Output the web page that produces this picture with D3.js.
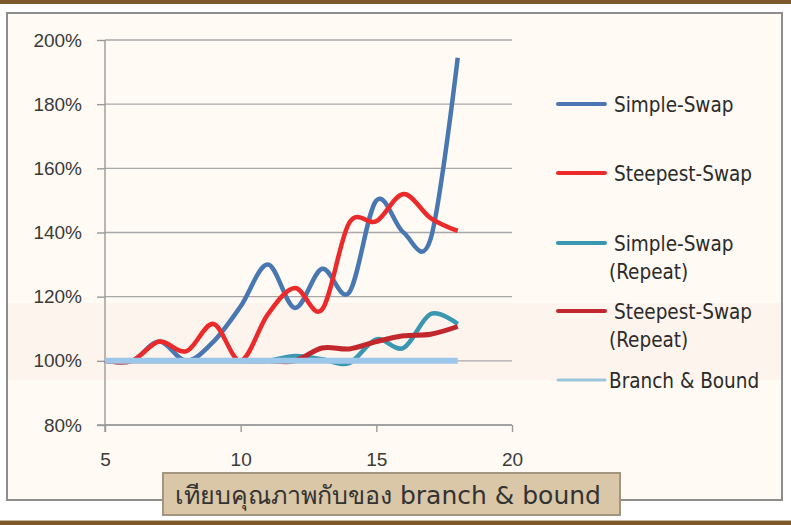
<!DOCTYPE html>
<html>
<head>
<meta charset="utf-8">
<script src="https://cdn.jsdelivr.net/npm/d3@7"></script>
<style>
  html, body { margin: 0; padding: 0; background: #ffffff; }
  svg { display: block; }
</style>
</head>
<body>
<svg id="chart" width="791" height="525"></svg>
<script>
// Problem size n on the x axis
const sizes = [5, 6, 7, 8, 9, 10, 11, 12, 13, 14, 15, 16, 17, 18];

// Solution cost relative to branch & bound (%)
const simpleSwap     = [100, 100, 106, 100, 106, 117, 130, 116.5, 128.7, 121.3, 150, 140, 138, 194.5];
const steepestSwap   = [100, 100, 106, 103, 111.5, 100, 114.5, 122.7, 116, 143, 143.5, 152, 144.5, 140.5];
const simpleRepeat   = [100, 100, 100, 100, 100, 100, 100, 101.5, 100.5, 99.3, 106.7, 104, 114.6, 111.5];
const steepestRepeat = [100, 100, 100, 100, 100, 100, 100, 100, 104, 103.7, 106, 107.8, 108.3, 110.7];
const branchBound    = [100, 100, 100, 100, 100, 100, 100, 100, 100, 100, 100, 100, 100, 100];

const seriesNames = ["Simple-Swap", "Steepest-Swap", "Simple-Swap (Repeat)", "Steepest-Swap (Repeat)", "Branch & Bound"];
const yTicks = [80, 100, 120, 140, 160, 180, 200];
const xTicks = [5, 10, 15, 20];
const caption = "เทียบคุณภาพกับของ branch & bound";

const svg = d3.select("#chart");
const W = 791, H = 525;

// page frame: brown rules top and bottom, framed cream panel
svg.append("rect").attr("width", W).attr("height", H).attr("fill", "#ffffff");
svg.append("rect").attr("x", 0).attr("y", 0).attr("width", W).attr("height", 4).attr("fill", "#7c5a2e");
svg.append("rect").attr("x", 0).attr("y", 521).attr("width", W).attr("height", 4).attr("fill", "#7c5a2e");
svg.append("rect").attr("x", 0).attr("y", 520).attr("width", W).attr("height", 1).attr("fill", "#c9b79a");

svg.append("rect")
  .attr("x", 7).attr("y", 13).attr("width", 775).attr("height", 487)
  .attr("fill", "#fffaf3").attr("stroke", "#8d8d8d").attr("stroke-width", 2);
// faint warm band behind the 100% region
svg.append("rect")
  .attr("x", 8).attr("y", 303).attr("width", 773).attr("height", 77)
  .attr("fill", "#fef4ee");

const x = d3.scaleLinear().domain([5, 20]).range([105, 512]);
const y = d3.scaleLinear().domain([80, 200]).range([425, 40]);

const tickFont = "'Liberation Sans', Arial, sans-serif";

// horizontal gridlines
svg.append("g")
  .selectAll("line")
  .data(yTicks)
  .join("line")
  .attr("x1", x(5)).attr("x2", x(20))
  .attr("y1", d => y(d)).attr("y2", d => y(d))
  .attr("stroke", "#a8a8a8").attr("stroke-width", 1.4);

// y axis
const yAxis = svg.append("g")
  .attr("transform", `translate(${x(5)},0)`)
  .call(d3.axisLeft(y).tickValues(yTicks).tickSize(8).tickPadding(15).tickFormat(d => d + "%"));
yAxis.select(".domain").attr("stroke", "#999999").attr("stroke-width", 1.4)
  .attr("d", `M0,${y(200)}V${y(80) + 7}`);
yAxis.selectAll(".tick line").attr("stroke", "#999999").attr("stroke-width", 1.4);
yAxis.selectAll(".tick text")
  .attr("font-family", tickFont).attr("font-size", 19).attr("fill", "#3a3a3a");

// x axis
const xAxis = svg.append("g")
  .attr("transform", `translate(0,${y(80)})`)
  .call(d3.axisBottom(x).tickValues(xTicks).tickSize(7).tickPadding(21).tickFormat(d3.format("d")));
xAxis.select(".domain").attr("stroke", "#999999").attr("stroke-width", 1.4)
  .attr("d", `M${x(5) - 8},0H${x(20)}`);
xAxis.selectAll(".tick line").attr("stroke", "#999999").attr("stroke-width", 1.4);
xAxis.selectAll(".tick text")
  .attr("font-family", tickFont).attr("font-size", 19).attr("fill", "#3a3a3a");

// smoothed series lines
const series = [
  { name: seriesNames[0], values: simpleSwap,     color: "#4877b1", width: 4.5 },
  { name: seriesNames[1], values: steepestSwap,   color: "#ea2a2b", width: 4.5 },
  { name: seriesNames[2], values: simpleRepeat,   color: "#3a97b0", width: 4.5 },
  { name: seriesNames[3], values: steepestRepeat, color: "#c1272d", width: 5 },
  { name: seriesNames[4], values: branchBound,    color: "#9dc7ea", width: 6 }
];

const line = d3.line()
  .x((d, i) => x(sizes[i]))
  .y(d => y(d))
  .curve(d3.curveCardinal.tension(0));

svg.append("g")
  .selectAll("path")
  .data(series)
  .join("path")
  .attr("d", d => line(d.values))
  .attr("fill", "none")
  .attr("stroke", d => d.color)
  .attr("stroke-width", d => d.width)
  .attr("stroke-linecap", "butt")
  .attr("stroke-linejoin", "round");

// legend
const legendFont = "'DejaVu Sans Condensed', 'DejaVu Sans', sans-serif";
const legendItems = [
  { s: series[0], lineY: 104, lines: ["Simple-Swap"] },
  { s: series[1], lineY: 173, lines: ["Steepest-Swap"] },
  { s: series[2], lineY: 243, lines: ["Simple-Swap", "(Repeat)"] },
  { s: series[3], lineY: 311, lines: ["Steepest-Swap", "(Repeat)"] },
  { s: series[4], lineY: 380, lines: ["Branch & Bound"] }
];
const legend = svg.append("g");
legendItems.forEach((item, k) => {
  const isBB = k === 4;
  legend.append("line")
    .attr("x1", 558).attr("x2", 605)
    .attr("y1", item.lineY).attr("y2", item.lineY)
    .attr("stroke", isBB ? "#9ac6dc" : item.s.color)
    .attr("stroke-width", isBB ? 3 : 4)
    .attr("stroke-linecap", "round");
  item.lines.forEach((txt, j) => {
    legend.append("text")
      .attr("x", j === 0 && !isBB ? 614 : 609)
      .attr("y", item.lineY + 8 + j * 28)
      .attr("font-family", legendFont)
      .attr("font-size", 20.5)
      .attr("fill", "#2b2b2b")
      .text(txt);
  });
});

// caption box
svg.append("rect")
  .attr("x", 163).attr("y", 473).attr("width", 457).attr("height", 42)
  .attr("fill", "#d9c7a7").attr("stroke", "#a39681").attr("stroke-width", 2);
svg.append("text")
  .attr("x", 175).attr("y", 504)
  .attr("font-family", "Tahoma, 'DejaVu Sans', 'Noto Sans', sans-serif")
  .attr("font-size", 25)
  .attr("fill", "#333333")
  .text(caption);
</script>
</body>
</html>
